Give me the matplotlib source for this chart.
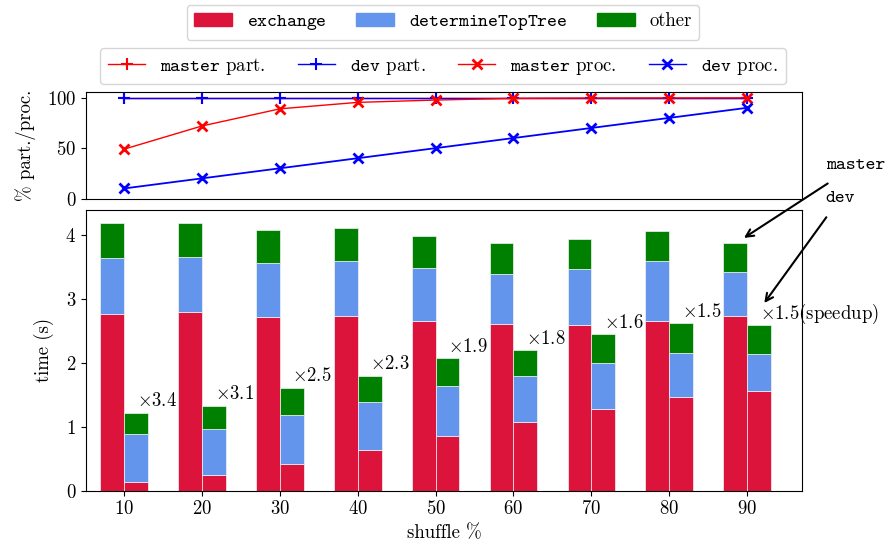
import matplotlib
matplotlib.use("Agg")
import matplotlib.pyplot as plt
from matplotlib.patches import Patch
from matplotlib.lines import Line2D
import numpy as np

plt.rcParams["font.family"] = ["cmr10", "DejaVu Serif"]
plt.rcParams["mathtext.fontset"] = "cm"
plt.rcParams["axes.formatter.use_mathtext"] = True
plt.rcParams["font.size"] = 13.5

# data
shuffle = [10, 20, 30, 40, 50, 60, 70, 80, 90]

master_exchange = [2.76, 2.79, 2.71, 2.74, 2.66, 2.61, 2.59, 2.66, 2.74]
master_toptree = [0.88, 0.86, 0.85, 0.86, 0.82, 0.78, 0.87, 0.93, 0.68]
master_other = [0.54, 0.53, 0.52, 0.51, 0.50, 0.49, 0.48, 0.47, 0.46]

dev_exchange = [0.13, 0.24, 0.42, 0.63, 0.85, 1.07, 1.27, 1.46, 1.56]
dev_toptree = [0.75, 0.72, 0.77, 0.76, 0.78, 0.72, 0.73, 0.69, 0.57]
dev_other = [0.34, 0.37, 0.42, 0.41, 0.44, 0.41, 0.45, 0.47, 0.46]

speedup = ["3.4", "3.1", "2.5", "2.3", "1.9", "1.8", "1.6", "1.5", "1.5"]

master_part = [100, 100, 100, 100, 100, 100, 100, 100, 100]
dev_part = [100, 100, 100, 100, 100, 100, 100, 100, 100]
master_proc = [49, 72, 89, 95.4, 97.7, 99.4, 99.7, 99.8, 99.9]
dev_proc = [10, 20, 30, 40, 50, 60, 70, 80, 90]

c_exch = "crimson"
c_tree = "cornflowerblue"
c_other = "green"

plus = dict(marker="+", ms=8, mew=1.5)
cross = dict(marker="x", ms=7, mew=2)

fig = plt.figure(figsize=(8.86, 5.55), dpi=100)
ax1 = fig.add_axes([0.0971, 0.6423, 0.8085, 0.1914])
ax2 = fig.add_axes([0.0971, 0.1159, 0.8085, 0.5057])

# top panel: partitions / processes
ax1.plot(shuffle, master_part, color="red", lw=1, **plus)
ax1.plot(shuffle, dev_part, color="blue", lw=1, **plus)
ax1.plot(shuffle, master_proc, color="red", lw=1, **cross)
ax1.plot(shuffle, dev_proc, color="blue", lw=1.3, **cross)
ax1.set_xlim(5.1, 97.1)
ax1.set_ylim(0, 105.4)
ax1.set_yticks([0, 50, 100])
ax1.tick_params(bottom=False, labelbottom=False)
ax1.set_ylabel("% part./proc.", labelpad=8)

# bottom panel: stacked times
x = np.array(shuffle, dtype=float)
w = 3.05
me = np.array(master_exchange)
mt = np.array(master_toptree)
mo = np.array(master_other)
de = np.array(dev_exchange)
dt = np.array(dev_toptree)
do = np.array(dev_other)

kw = dict(width=w, edgecolor="#f4f4f4", linewidth=0.5)
ax2.bar(x - w / 2, me, color=c_exch, **kw)
ax2.bar(x - w / 2, mt, bottom=me, color=c_tree, **kw)
ax2.bar(x - w / 2, mo, bottom=me + mt, color=c_other, **kw)
ax2.bar(x + w / 2, de, color=c_exch, **kw)
ax2.bar(x + w / 2, dt, bottom=de, color=c_tree, **kw)
ax2.bar(x + w / 2, do, bottom=de + dt, color=c_other, **kw)

dev_total = de + dt + do
for i in range(len(shuffle)):
    label = r"$\times$" + speedup[i]
    if i == len(shuffle) - 1:
        label += "(speedup)"
    ax2.text(x[i] + 1.6, dev_total[i] + 0.1, label, ha="left", va="baseline")

ax2.set_xlim(5.1, 97.1)
ax2.set_ylim(0, 4.39)
ax2.set_xticks(shuffle)
ax2.set_yticks([0, 1, 2, 3, 4])
ax2.set_xlabel("shuffle %")
ax2.set_ylabel("time (s)", labelpad=8)

# arrows pointing at the last pair
ax2.annotate("", xy=(89.3, 3.93), xycoords="data",
             xytext=(0.9368, 0.6721), textcoords="figure fraction",
             arrowprops=dict(arrowstyle="->", color="black", lw=1.5),
             annotation_clip=False)
ax2.annotate("", xy=(92.0, 2.90), xycoords="data",
             xytext=(0.9345, 0.6126), textcoords="figure fraction",
             arrowprops=dict(arrowstyle="->", color="black", lw=1.5),
             annotation_clip=False)
fig.text(0.932, 0.7025, "master", family="cmtt10", ha="left", va="center")
fig.text(0.932, 0.643, "dev", family="cmtt10", ha="left", va="center")

# legends
bar_handles = [Patch(color=c_exch), Patch(color=c_tree), Patch(color=c_other)]
bar_labels = [r"$\mathtt{exchange}$", r"$\mathtt{determineTopTree}$", "other"]
fig.legend(bar_handles, bar_labels, loc="upper center", ncol=3,
           bbox_to_anchor=(0.5, 1.008), columnspacing=1.6)

line_handles = [
    Line2D([], [], color="red", lw=1, **plus),
    Line2D([], [], color="blue", lw=1, **plus),
    Line2D([], [], color="red", lw=1, **cross),
    Line2D([], [], color="blue", lw=1, **cross),
]
line_labels = [r"$\mathtt{master}$ part.", r"$\mathtt{dev}$ part.",
               r"$\mathtt{master}$ proc.", r"$\mathtt{dev}$ proc."]
fig.legend(line_handles, line_labels, loc="upper center", ncol=4,
           bbox_to_anchor=(0.5, 0.93), columnspacing=1.7)

fig.savefig("out.png", dpi=100)
